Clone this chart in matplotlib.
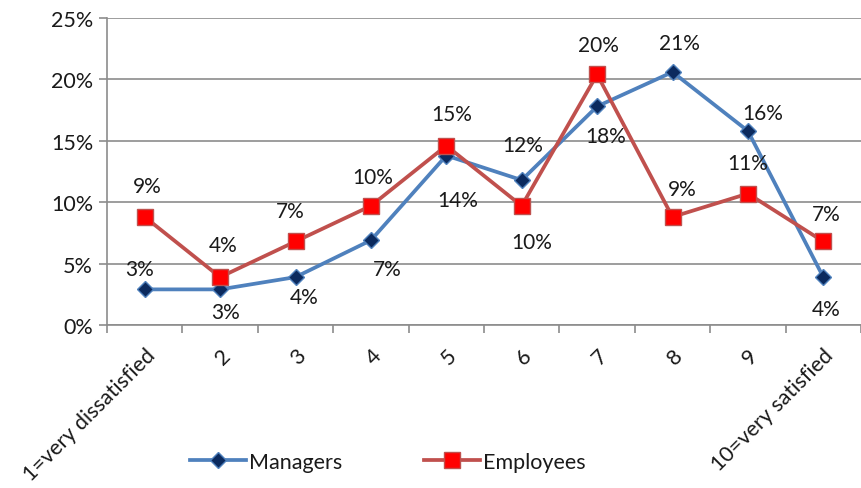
import matplotlib.pyplot as plt
import numpy as np
from matplotlib.ticker import FixedLocator, PercentFormatter

plt.rcParams['font.family'] = ['Lato', 'DejaVu Sans']
plt.rcParams['text.color'] = '#1A1A1A'
plt.rcParams['xtick.labelcolor'] = '#1A1A1A'
plt.rcParams['ytick.labelcolor'] = '#1A1A1A'

categories = ['1=very dissatisfied', '2', '3', '4', '5', '6', '7', '8', '9', '10=very satisfied']
managers = [2.9, 2.9, 3.9, 6.9, 13.8, 11.8, 17.8, 20.6, 15.8, 3.9]
employees = [8.8, 3.9, 6.8, 9.7, 14.6, 9.7, 20.4, 8.8, 10.7, 6.8]

# label offsets in points (dx, dy) relative to each marker
mgr_off = [(-4, 15), (4, -16), (6, -14), (12, -21), (8, -32), (1, 25), (6, -21), (5, 21), (11, 13), (2, -23)]
emp_off = [(2, 22), (2, 23), (-4, 22), (1, 21), (4, 23), (7, -26), (1, 21), (7, 20), (0, 22), (2, 20)]

fig = plt.figure(figsize=(8.61, 4.89), dpi=100)
ax = fig.add_axes([107 / 861, 163 / 489, 754 / 861, 307 / 489])

x = np.arange(len(categories))
ax.plot(x, managers, color='#4F81BD', lw=2.7, marker='D', ms=8,
        mfc='#0B2A5E', mec='#4F81BD', mew=1, label='Managers', zorder=3)
ax.plot(x, employees, color='#C0504D', lw=2.7, marker='s', ms=12,
        mfc='#FF0000', mec='#C0504D', mew=1, label='Employees', zorder=4)

for xi, v, (dx, dy) in zip(x, managers, mgr_off):
    ax.annotate(f'{v:.0f}%', (xi, v), xytext=(dx, dy), textcoords='offset points',
                ha='center', va='center', fontsize=15)
for xi, v, (dx, dy) in zip(x, employees, emp_off):
    ax.annotate(f'{v:.0f}%', (xi, v), xytext=(dx, dy), textcoords='offset points',
                ha='center', va='center', fontsize=15)

ax.set_ylim(0, 25)
ax.set_xlim(-0.5, 9.5)
ax.set_yticks(np.arange(0, 26, 5))
ax.yaxis.set_major_formatter(PercentFormatter(decimals=0))
ax.grid(axis='y', color='#8C8C8C', lw=1.2)
ax.set_axisbelow(True)

ax.set_xticks(x)
ax.set_xticklabels(categories, rotation=45, ha='right', va='top', rotation_mode='anchor')
ax.xaxis.set_minor_locator(FixedLocator(np.arange(-0.5, 10, 1)))
ax.tick_params(axis='x', which='major', length=0, pad=14, labelsize=15.5)
ax.tick_params(axis='x', which='minor', length=6, color='#8C8C8C', width=1.2)
ax.tick_params(axis='y', length=6, color='#8C8C8C', width=1.2, labelsize=15.5, pad=4)

for s in ['top', 'right']:
    ax.spines[s].set_visible(False)
for s in ['left', 'bottom']:
    ax.spines[s].set_color('#8C8C8C')
    ax.spines[s].set_linewidth(1.2)

fig.legend(loc='center', bbox_to_anchor=(388 / 861, 1 - 463 / 489), ncol=2,
           frameon=False, fontsize=15.5, handlelength=2.6, columnspacing=3.8,
           handletextpad=0.15)

fig.savefig('out.png', dpi=100)
